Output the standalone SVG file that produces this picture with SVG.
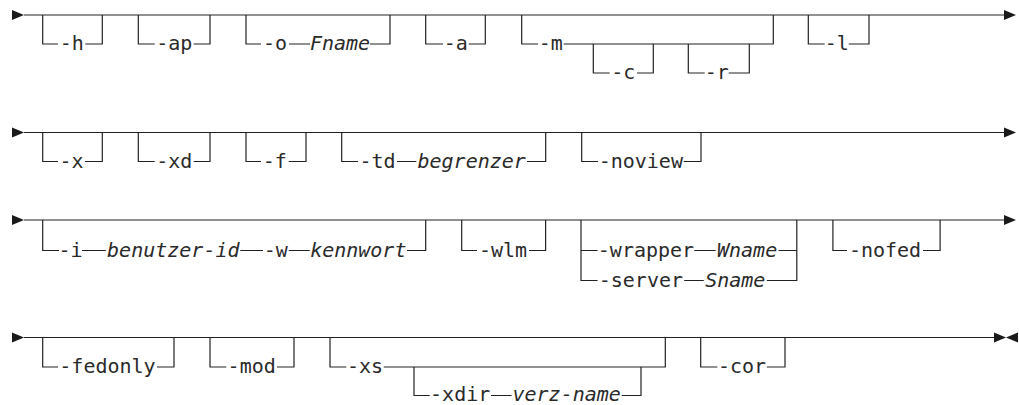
<svg xmlns="http://www.w3.org/2000/svg" xmlns:xlink="http://www.w3.org/1999/xlink" width="1019" height="405" viewBox="0 0 1019 405">
<style>
.l{stroke:#222;stroke-width:1.2;fill:none}
.t{font-family:"DejaVu Sans Mono","Liberation Mono",monospace;font-size:20px;fill:#2a2a2a;text-anchor:middle}
.i{font-style:italic}
.a{fill:#1a1a1a}
</style>
<defs>
<path id="ar" d="M0,-5L12,0L0,5Z"/>
<path id="al" d="M0,-5L-12,0L0,5Z"/>
</defs>
<g id="connectors">
<path class="l" d="M24,15H1004M24,132.5H1004M24,220H1004M24,337.5H994"/>
<use href="#ar" class="a" x="12" y="15"/>
<use href="#ar" class="a" x="1004" y="15"/>
<use href="#ar" class="a" x="12" y="132.5"/>
<use href="#ar" class="a" x="1004" y="132.5"/>
<use href="#ar" class="a" x="12" y="220"/>
<use href="#ar" class="a" x="1004" y="220"/>
<use href="#ar" class="a" x="12" y="337.5"/>
<use href="#ar" class="a" x="994" y="337.5"/>
<use href="#al" class="a" x="1018" y="337.5"/>
</g>
<g id="opt-h"><path class="l" d="M42.7,15V44H58M85.3,44H102.3V15"/><text class="t" x="71.7" y="50">-h</text></g>
<g id="opt-ap"><path class="l" d="M138.3,15V44H154.7M193.7,44H210V15"/><text class="t" x="174.2" y="50">-ap</text></g>
<g id="opt-o"><path class="l" d="M246,15V44H261M289,44H310M370,44H390V15"/><text class="t" x="275" y="50">-o</text><text class="t i" x="340" y="50">Fname</text></g>
<g id="opt-a"><path class="l" d="M425.7,15V44H443M468.7,44H485.3V15"/><text class="t" x="455.8" y="50">-a</text></g>
<g id="opt-m"><path class="l" d="M521.7,15V44H538M563.7,44H773.3V15"/><text class="t" x="550.8" y="50">-m</text></g>
<g id="opt-c"><path class="l" d="M593.3,44V73H609.7M637,73H653.3V44"/><text class="t" x="623.3" y="79">-c</text></g>
<g id="opt-r"><path class="l" d="M688.3,44V73H704.7M728.7,73H749.3V44"/><text class="t" x="716.7" y="79">-r</text></g>
<g id="opt-l"><path class="l" d="M808.3,15V44H824.7M848.7,44H869V15"/><text class="t" x="836.7" y="50">-l</text></g>
<g id="opt-x"><path class="l" d="M42.7,132.5V161.5H58M85,161.5H102.3V132.5"/><text class="t" x="71.5" y="167.5">-x</text></g>
<g id="opt-xd"><path class="l" d="M138.3,132.5V161.5H154.7M193.7,161.5H210V132.5"/><text class="t" x="174.2" y="167.5">-xd</text></g>
<g id="opt-f"><path class="l" d="M246,132.5V161.5H261M288.7,161.5H306V132.5"/><text class="t" x="274.8" y="167.5">-f</text></g>
<g id="opt-td"><path class="l" d="M341.7,132.5V161.5H358M397,161.5H416.3M527,161.5H545.7V132.5"/><text class="t" x="377.5" y="167.5">-td</text><text class="t i" x="471.7" y="167.5">begrenzer</text></g>
<g id="opt-noview"><path class="l" d="M581.7,132.5V161.5H598M683.7,161.5H701V132.5"/><text class="t" x="640.8" y="167.5">-noview</text></g>
<g id="opt-i"><path class="l" d="M42.7,220V250.5H59M82,250.5H105.8M240.3,250.5H263M288.7,250.5H309.7M407,250.5H425.7V220"/><text class="t" x="70.5" y="256.5">-i</text><text class="t i" x="173.3" y="256.5">benutzer-id</text><text class="t" x="275.8" y="256.5">-w</text><text class="t i" x="358.3" y="256.5">kennwort</text></g>
<g id="opt-wlm"><path class="l" d="M461.7,220V250.5H477M529,250.5H545.6V220"/><text class="t" x="503" y="256.5">-wlm</text></g>
<g id="opt-wrapper-server"><path class="l" d="M581,220V280.5H597.6M581,250.5H597.6M694.3,250.5H715.6M778.6,250.5H796.8M684.2,280.5H703.8M766.8,280.5H796.8V220"/><text class="t" x="646" y="256.5">-wrapper</text><text class="t i" x="747.1" y="256.5">Wname</text><text class="t" x="640.9" y="286.5">-server</text><text class="t i" x="735.3" y="286.5">Sname</text></g>
<g id="opt-nofed"><path class="l" d="M832.9,220V250.5H847M923,250.5H940.1V220"/><text class="t" x="885" y="256.5">-nofed</text></g>
<g id="opt-fedonly"><path class="l" d="M42.7,337.5V367H58M157,367H174V337.5"/><text class="t" x="107.5" y="373">-fedonly</text></g>
<g id="opt-mod"><path class="l" d="M210,337.5V367H226.3M277,367H294V337.5"/><text class="t" x="251.7" y="373">-mod</text></g>
<g id="opt-xs"><path class="l" d="M330,337.5V367H346.3M383.7,367H665.3V337.5"/><text class="t" x="365" y="373">-xs</text></g>
<g id="opt-xdir"><path class="l" d="M414,367V395.5H429.7M491,395.5H511.6M621.8,395.5H641V367"/><text class="t" x="460.2" y="400.5">-xdir</text><text class="t i" x="566.7" y="400.5">verz-name</text></g>
<g id="opt-cor"><path class="l" d="M700.7,337.5V367H717.3M766.8,367H785V337.5"/><text class="t" x="742" y="373">-cor</text></g>
</svg>
